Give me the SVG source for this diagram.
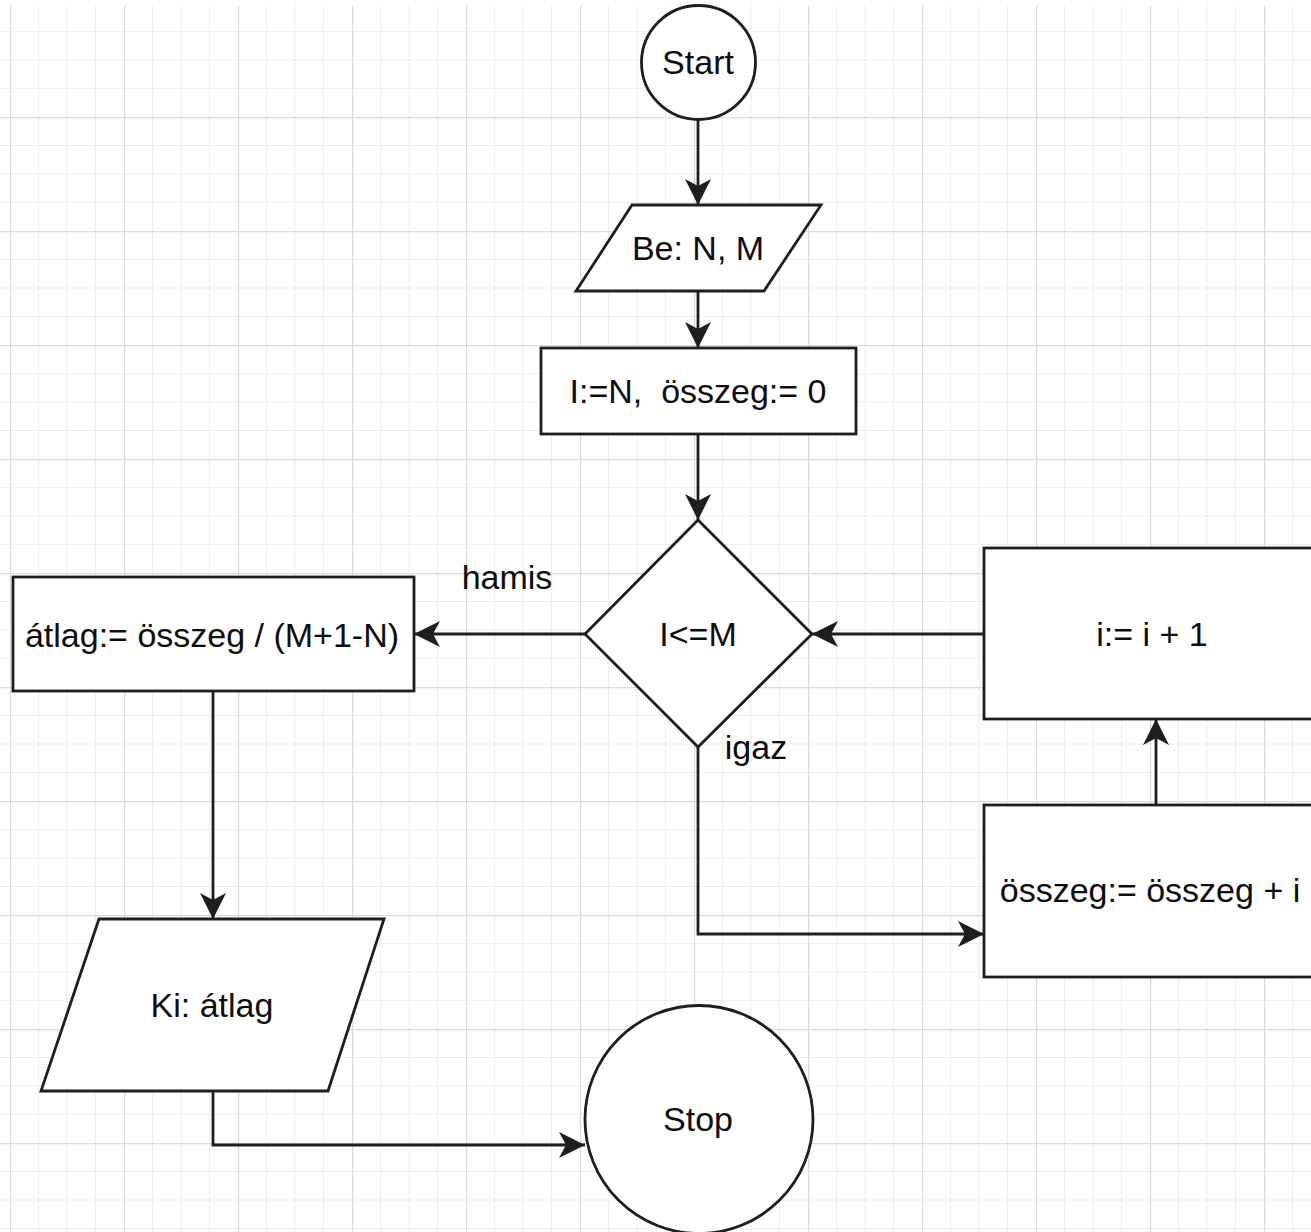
<svg xmlns="http://www.w3.org/2000/svg" width="1311" height="1232" viewBox="0 0 1311 1232">
  <style>
    .shape { fill: #ffffff; stroke: #1e1e1e; stroke-width: 2.8; }
    .edge { fill: none; stroke: #1e1e1e; stroke-width: 2.8; }
    .label { font-family: "Liberation Sans", Arial, sans-serif; font-size: 34px; fill: #0d0d0d; text-anchor: middle; white-space: pre; }
  </style>
  <defs>
    <pattern id="grid" patternUnits="userSpaceOnUse" x="10" y="3" width="114" height="114">
      <path d="M28.5 0V114M57 0V114M85.5 0V114M0 28.5H114M0 57H114M0 85.5H114" stroke="#efefef" stroke-width="1.2" fill="none"/>
      <path d="M0.5 0V114M0 0.5H114" stroke="#dadada" stroke-width="1.4" fill="none"/>
    </pattern>
    <marker id="arrow" viewBox="0 0 26 26" refX="26" refY="13" markerWidth="26" markerHeight="26" markerUnits="userSpaceOnUse" orient="auto">
      <path d="M26 13L0 0L7 13L0 26Z" fill="#1e1e1e"/>
    </marker>
  </defs>

  <!-- background grid -->
  <rect x="0" y="0" width="1311" height="1232" fill="#ffffff"/>
  <rect x="0" y="6" width="1311" height="1226" fill="url(#grid)"/>

  <!-- connectors -->
  <g id="connectors">
    <path class="edge" d="M698 120V205" marker-end="url(#arrow)"/>
    <path class="edge" d="M698 291V348" marker-end="url(#arrow)"/>
    <path class="edge" d="M698 434V520" marker-end="url(#arrow)"/>
    <path class="edge" d="M585 634H414" marker-end="url(#arrow)"/>
    <path class="edge" d="M984 634H812" marker-end="url(#arrow)"/>
    <path class="edge" d="M698 747V934H984" marker-end="url(#arrow)"/>
    <path class="edge" d="M1156 805V719" marker-end="url(#arrow)"/>
    <path class="edge" d="M213 691V919" marker-end="url(#arrow)"/>
    <path class="edge" d="M213 1091V1145H585" marker-end="url(#arrow)"/>
    <text class="label" x="507" y="589">hamis</text>
    <text class="label" x="756" y="759">igaz</text>
  </g>

  <g id="start">
    <circle class="shape" cx="698.5" cy="62.5" r="57"/>
    <text class="label" x="698" y="74">Start</text>
  </g>

  <g id="input">
    <polygon class="shape" points="632,205 821,205 764,291 576,291"/>
    <text class="label" x="698" y="260">Be: N, M</text>
  </g>

  <g id="init">
    <rect class="shape" x="541" y="348" width="315" height="86"/>
    <text class="label" x="698" y="403">I:=N,  összeg:= 0</text>
  </g>

  <g id="condition">
    <polygon class="shape" points="698,520 812,634 698,747 585,634"/>
    <text class="label" x="698" y="646">I&lt;=M</text>
  </g>

  <g id="average">
    <rect class="shape" x="13" y="577" width="401" height="114"/>
    <text class="label" x="212" y="647">átlag:= összeg / (M+1-N)</text>
  </g>

  <g id="increment">
    <rect class="shape" x="984" y="548" width="344" height="171"/>
    <text class="label" x="1152" y="646">i:= i + 1</text>
  </g>

  <g id="accumulate">
    <rect class="shape" x="984" y="805" width="344" height="172"/>
    <text class="label" x="1150" y="902">összeg:= összeg + i</text>
  </g>

  <g id="output">
    <polygon class="shape" points="99,919 384,919 328,1091 41,1091"/>
    <text class="label" x="212" y="1017">Ki: átlag</text>
  </g>

  <g id="stop">
    <circle class="shape" cx="699" cy="1119.5" r="114"/>
    <text class="label" x="698" y="1131">Stop</text>
  </g>
</svg>
